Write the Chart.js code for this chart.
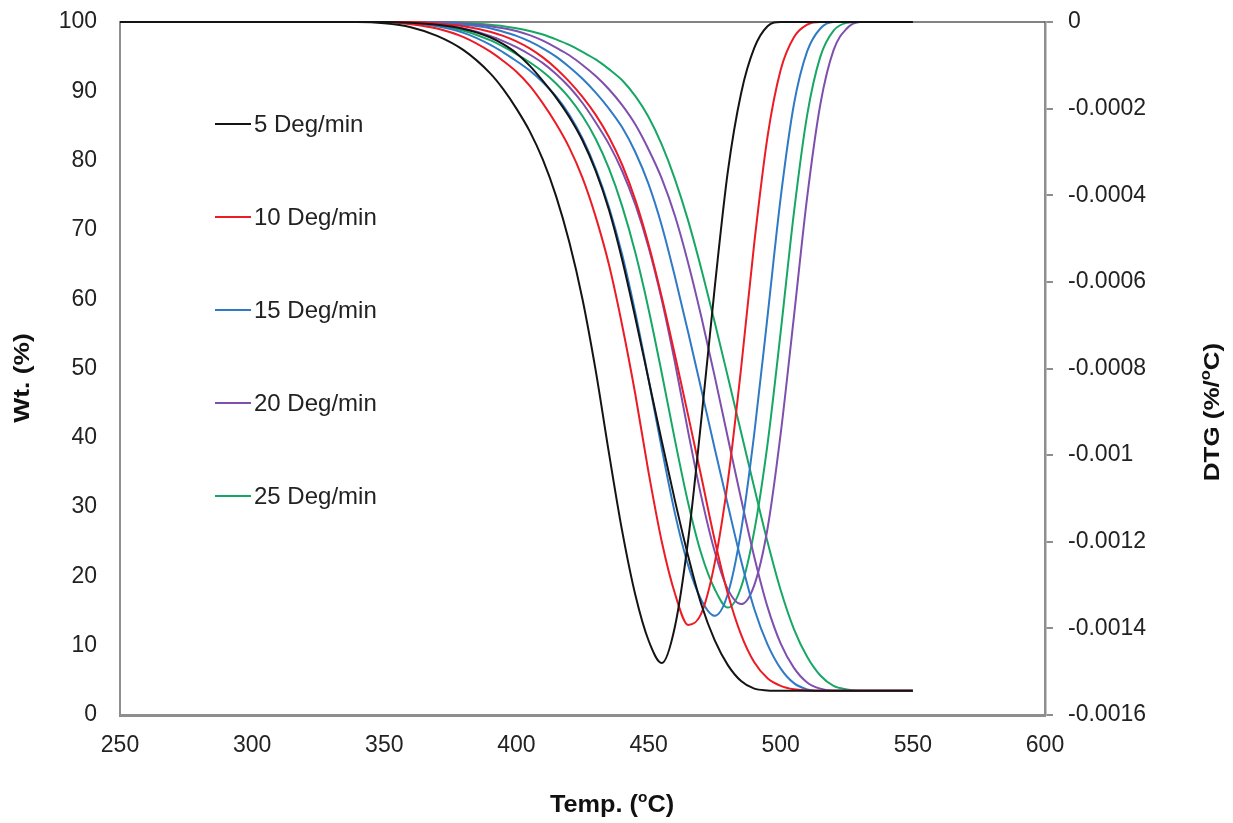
<!DOCTYPE html>
<html>
<head>
<meta charset="utf-8">
<title>TGA / DTG at different heating rates</title>
<script src="https://cdn.jsdelivr.net/npm/chart.js@4.4.1/dist/chart.umd.min.js"></script>
<style>
  html, body { margin: 0; padding: 0; background: #ffffff; }
  #wrap { position: relative; width: 1233px; height: 823px; }
  canvas { display: block; }
</style>
</head>
<body>
<div id="wrap"><canvas id="tga" width="1233" height="823"></canvas></div>
<script>
// Temperature grid (°C) shared by every curve
const tempC = [250, 300, 320, 340, 350, 360, 370, 380, 390, 395, 400, 405, 410, 415, 420, 425, 430, 435, 440, 445,
               450, 455, 460, 465, 470, 475, 480, 485, 490, 495, 500, 505, 510, 515, 520, 525, 530, 540, 550];

// Residual weight (%) for each heating rate
const wt5  = [100, 100, 100, 100, 100, 99.9, 99.6, 99.0, 97.8, 96.8, 95.5, 93.7, 91.5, 89.1, 86.3, 82.9, 78.5, 72.9, 65.7, 57.3,
              48.4, 39.5, 30.9, 22.9, 15.9, 10.8, 7.2, 4.9, 3.8, 3.55, 3.5, 3.5, 3.5, 3.5, 3.5, 3.5, 3.5, 3.5, 3.5];
const wt10 = [100, 100, 100, 100, 100, 100, 99.8, 99.4, 98.6, 98.0, 97.2, 96.2, 94.9, 93.3, 91.4, 89.2, 86.6, 83.4, 79.4, 74.3,
              67.9, 60.3, 51.9, 43.2, 34.3, 25.3, 17.5, 11.6, 7.6, 5.3, 4.2, 3.7, 3.55, 3.5, 3.5, 3.5, 3.5, 3.5, 3.5];
const wt15 = [100, 100, 100, 100, 100, 100, 99.9, 99.6, 99.1, 98.6, 98.0, 97.2, 96.2, 95.0, 93.5, 91.8, 89.8, 87.5, 84.8, 81.2,
              76.6, 70.6, 63.2, 55.2, 46.9, 38.5, 30.3, 22.3, 15.3, 10.2, 6.7, 4.6, 3.7, 3.5, 3.5, 3.5, 3.5, 3.5, 3.5];
const wt20 = [100, 100, 100, 100, 100, 100, 100, 99.8, 99.4, 99.1, 98.7, 98.1, 97.3, 96.3, 95.2, 93.8, 92.2, 90.3, 88.0, 85.2,
              81.6, 77.4, 72.0, 65.2, 57.4, 48.9, 40.0, 31.2, 22.8, 15.6, 10.3, 6.8, 4.7, 3.8, 3.5, 3.5, 3.5, 3.5, 3.5];
const wt25 = [100, 100, 100, 100, 100, 100, 100, 99.9, 99.6, 99.4, 99.1, 98.7, 98.2, 97.5, 96.7, 95.7, 94.6, 93.2, 91.6, 89.3,
              86.3, 82.3, 77.3, 71.3, 64.3, 56.7, 48.8, 40.8, 32.8, 25.0, 18.0, 12.4, 8.4, 5.7, 4.2, 3.7, 3.5, 3.5, 3.5];

// Derivative weight loss (%/°C) for each heating rate
const dtg5  = [0, 0, 0, 0, -0.000003, -0.000012, -0.000032, -0.000065, -0.000118, -0.000155, -0.0002, -0.000252,
               -0.000318, -0.000402, -0.000508, -0.00064, -0.000805, -0.000995, -0.001175, -0.001323, -0.001428,
               -0.00148, -0.001395, -0.001195, -0.000915, -0.000615, -0.000345, -0.000165, -0.00006, -0.00001,
               0, 0, 0, 0, 0, 0, 0, 0, 0];
const dtg10 = [0, 0, 0, 0, 0, -0.000005, -0.000015, -0.000035, -0.000068, -0.00009, -0.000115, -0.000147, -0.000188,
               -0.000235, -0.00029, -0.00036, -0.00045, -0.00056, -0.0007, -0.00086, -0.00104, -0.0012, -0.00132,
               -0.001392, -0.001365, -0.00125, -0.00106, -0.0008, -0.00051, -0.000265, -0.00011, -0.000035, -0.000006,
               0, 0, 0, 0, 0, 0];
const dtg15 = [0, 0, 0, 0, 0, -0.000003, -0.00001, -0.000025, -0.000052, -0.00007, -0.00009, -0.000112, -0.000139,
               -0.000172, -0.000214, -0.000269, -0.000339, -0.000427, -0.000537, -0.000672, -0.000825, -0.000985,
               -0.001135, -0.001255, -0.001335, -0.001371, -0.00132, -0.001175, -0.00095, -0.00068, -0.000405,
               -0.00019, -0.000068, -0.000015, 0, 0, 0, 0, 0];
const dtg20 = [0, 0, 0, 0, 0, -0.000002, -0.000006, -0.000015, -0.000032, -0.000044, -0.000058, -0.000075, -0.000095,
               -0.00012, -0.00015, -0.000187, -0.000232, -0.000282, -0.000344, -0.000422, -0.00052, -0.000642,
               -0.000787, -0.000947, -0.001097, -0.001222, -0.00131, -0.001344, -0.0013, -0.00117, -0.00095,
               -0.00068, -0.000405, -0.00019, -0.000065, -0.000015, 0, 0, 0];
const dtg25 = [0, 0, 0, 0, 0, -0.000002, -0.000008, -0.00002, -0.000042, -0.000057, -0.000074, -0.000093, -0.000115,
               -0.000142, -0.000175, -0.000217, -0.00027, -0.000338, -0.000425, -0.000533, -0.000663, -0.000811,
               -0.000966, -0.001111, -0.001229, -0.001309, -0.001352, -0.001305, -0.001175, -0.000975, -0.000715,
               -0.00044, -0.000215, -0.00008, -0.00002, -0.000002, 0, 0, 0];

const rateLabels = ['5 Deg/min', '10 Deg/min', '15 Deg/min', '20 Deg/min', '25 Deg/min'];
const rateColors = ['#141414', '#ec1b24', '#2f7ac6', '#7e4fae', '#17a765'];
const wtSeries  = [wt5, wt10, wt15, wt20, wt25];
const dtgSeries = [dtg5, dtg10, dtg15, dtg20, dtg25];

// Axis ranges and tick steps
const tempRange = [250, 600], tempStep = 50;
const wtRange = [0, 100], wtStep = 10;
const dtgRange = [-0.0016, 0], dtgStep = 0.0002;

const FONT = "'Liberation Sans', Arial, Helvetica, sans-serif";
const AXIS_GREY = '#8e8e8e';

function pairs(values) {
  return tempC.map((t, i) => ({ x: t, y: values[i] }));
}

const datasets = [];
rateLabels.forEach((label, k) => {
  datasets.push({
    label: label, data: pairs(wtSeries[k]), yAxisID: 'y',
    borderColor: rateColors[k], borderWidth: 2, pointRadius: 0,
    cubicInterpolationMode: 'monotone', fill: false, clip: 4
  });
  datasets.push({
    label: label + ' DTG', data: pairs(dtgSeries[k]), yAxisID: 'y2',
    borderColor: rateColors[k], borderWidth: 2, pointRadius: 0,
    cubicInterpolationMode: 'monotone', fill: false, clip: 4
  });
});

// Draws bold text pieces (some as superscripts) centred on the origin,
// stretched along the baseline by `stretch`
function drawRich(ctx, parts, size, stretch) {
  const supSize = Math.round(size * 0.62);
  const widths = parts.map(p => {
    ctx.font = 'bold ' + (p.sup ? supSize : size) + 'px ' + FONT;
    return ctx.measureText(p.t).width;
  });
  const total = widths.reduce((a, b) => a + b, 0);
  ctx.scale(stretch, 1);
  let x = -total / 2;
  parts.forEach((p, i) => {
    ctx.font = 'bold ' + (p.sup ? supSize : size) + 'px ' + FONT;
    ctx.fillText(p.t, x, p.sup ? -size * 0.33 : 0);
    x += widths[i];
  });
}

const decorations = {
  id: 'decorations',
  beforeDatasetsDraw(chart) {
    const { ctx, chartArea: a } = chart;
    ctx.save();
    ctx.strokeStyle = '#5a5a5a';
    ctx.lineWidth = 1.5;
    ctx.beginPath();
    ctx.moveTo(a.left, a.top);
    ctx.lineTo(a.right, a.top);
    ctx.stroke();
    ctx.restore();
  },
  afterDraw(chart) {
    const { ctx } = chart;
    ctx.save();
    // legend: one entry per heating rate
    const legendX = 215, legendY0 = 124, legendGap = 93;
    ctx.textBaseline = 'middle';
    ctx.textAlign = 'left';
    rateLabels.forEach((label, k) => {
      const y = legendY0 + k * legendGap;
      ctx.strokeStyle = rateColors[k];
      ctx.lineWidth = 2;
      ctx.beginPath();
      ctx.moveTo(legendX, y);
      ctx.lineTo(legendX + 36, y);
      ctx.stroke();
      ctx.fillStyle = '#222';
      ctx.font = '24px ' + FONT;
      ctx.fillText(label, legendX + 39, y + 1);
    });

    // axis titles
    ctx.fillStyle = '#111';
    ctx.textAlign = 'left';
    ctx.textBaseline = 'middle';
    ctx.save();
    ctx.translate(612, 806);
    drawRich(ctx, [{ t: 'Temp. (' }, { t: 'o', sup: true }, { t: 'C)' }], 23, 1.1);
    ctx.restore();

    ctx.save();
    ctx.translate(23, 378);
    ctx.rotate(-Math.PI / 2);
    drawRich(ctx, [{ t: 'Wt. (%)' }], 22, 1.2);
    ctx.restore();

    ctx.save();
    ctx.translate(1213, 412);
    ctx.rotate(-Math.PI / 2);
    drawRich(ctx, [{ t: 'DTG (%/' }, { t: 'o', sup: true }, { t: 'C)' }], 22, 1.18);
    ctx.restore();
    ctx.restore();
  }
};

// Fixed axis boxes so the plot area sits at x 120–1045, y 22–715
function fixVertical(width) {
  return s => { s.width = width; s.paddingTop = 0; s.paddingBottom = 0; };
}

new Chart(document.getElementById('tga'), {
  type: 'line',
  data: { datasets: datasets },
  options: {
    responsive: false,
    animation: false,
    devicePixelRatio: 1,
    layout: { padding: { top: 22, left: 0, right: 0, bottom: 0 } },
    plugins: { legend: { display: false }, tooltip: { enabled: false }, title: { display: false } },
    scales: {
      x: {
        type: 'linear', position: 'bottom',
        min: tempRange[0], max: tempRange[1],
        afterFit: s => { s.height = 823 - 715; },
        grid: { display: false, drawTicks: false, tickLength: 0 },
        border: { display: true, color: AXIS_GREY, width: 3 },
        ticks: { stepSize: tempStep, padding: 17, color: '#222', font: { family: FONT, size: 23 }, maxRotation: 0 }
      },
      y: {
        type: 'linear', position: 'left',
        min: wtRange[0], max: wtRange[1],
        afterFit: fixVertical(120),
        grid: { display: false, drawTicks: false, tickLength: 0 },
        border: { display: true, color: AXIS_GREY, width: 2 },
        ticks: { stepSize: wtStep, padding: 23, color: '#222', font: { family: FONT, size: 23 } }
      },
      y2: {
        type: 'linear', position: 'right',
        min: dtgRange[0], max: dtgRange[1],
        afterFit: fixVertical(1233 - 1045),
        grid: { display: true, drawOnChartArea: false, drawTicks: true, tickLength: 8, color: AXIS_GREY, lineWidth: 2 },
        border: { display: true, color: AXIS_GREY, width: 2.5 },
        ticks: {
          stepSize: dtgStep, padding: 15, color: '#222', font: { family: FONT, size: 23 },
          callback: v => { const r = Math.round(v * 1e4) / 1e4; return r === 0 ? '0' : String(r); }
        }
      }
    }
  },
  plugins: [decorations]
});
</script>
</body>
</html>
